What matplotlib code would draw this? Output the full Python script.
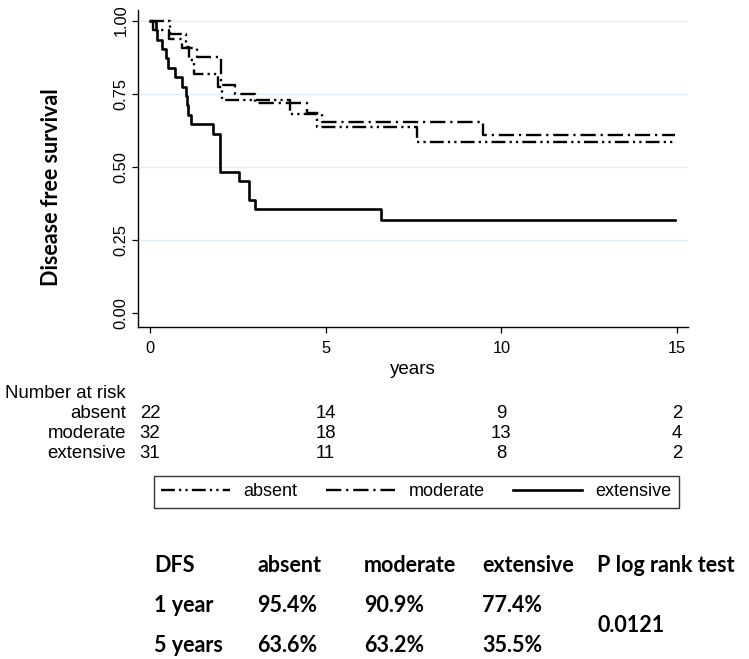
import matplotlib
matplotlib.use("Agg")
import matplotlib.pyplot as plt
import matplotlib.transforms as mtransforms

plt.rcParams['font.family'] = ['Liberation Sans', 'DejaVu Sans']
plt.rcParams['lines.scale_dashes'] = False

# ---------------- data ----------------
groups = ["absent", "moderate", "extensive"]

absent_t = [0, 0.57, 1.02, 1.12, 1.25, 1.95, 2.05, 3.99, 4.75, 7.60, 14.95]
absent_s = [1.0, 0.955, 0.909, 0.864, 0.818, 0.773, 0.727, 0.682, 0.636, 0.585, 0.585]

moderate_t = [0, 0.08, 0.55, 0.90, 1.33, 2.01, 2.42, 2.99, 4.47, 4.89, 9.49, 14.95]
moderate_s = [1.0, 0.969, 0.938, 0.906, 0.875, 0.781, 0.750, 0.719, 0.684, 0.652, 0.608, 0.608]

extensive_t = [0, 0.17, 0.19, 0.33, 0.47, 0.52, 0.71, 0.90, 1.02, 1.05, 1.09, 1.16,
               1.78, 1.99, 2.52, 2.82, 2.99, 6.58, 14.95]
extensive_s = [1.0, 0.968, 0.935, 0.903, 0.871, 0.839, 0.806, 0.774, 0.742, 0.710,
               0.677, 0.645, 0.613, 0.484, 0.452, 0.387, 0.355, 0.320, 0.320]

risk_times = [0, 5, 10, 15]
risk_absent = [22, 14, 9, 2]
risk_moderate = [32, 18, 13, 4]
risk_extensive = [31, 11, 8, 2]

yticks = [0.00, 0.25, 0.50, 0.75, 1.00]
xticks = [0, 5, 10, 15]

table_header = ["DFS", "absent", "moderate", "extensive", "P log rank test"]
table_row1 = ["1 year", "95.4%", "90.9%", "77.4%"]
table_row2 = ["5 years", "63.6%", "63.2%", "35.5%"]
p_value = "0.0121"

# ---------------- figure ----------------
W, H = 749, 659
fig = plt.figure(figsize=(W / 100, H / 100), dpi=100)

def fx(px):
    return px / W

def fy(py):
    return 1 - py / H

ax = fig.add_axes([fx(138), fy(327), fx(688) - fx(138), fy(10) - fy(327)])
ax.set_xlim(-0.34, 15.31)
ax.set_ylim(-0.047, 1.036)

for v in yticks[1:]:
    ax.axhline(v, color='#e4edf3', lw=1.0, zorder=0)

lw = 1.7
ls_absent = (0, (10, 3, 1.6, 3, 1.6, 3))
ls_moderate = (0, (11, 3.5, 1.6, 3.5))

ax.step(absent_t, absent_s, where='post', color='black', lw=lw, linestyle=ls_absent, label=groups[0])
ax.step(moderate_t, moderate_s, where='post', color='black', lw=lw, linestyle=ls_moderate, label=groups[1])
ax.step(extensive_t, extensive_s, where='post', color='black', lw=lw + 0.2, linestyle='-', label=groups[2])

for s in ['top', 'right']:
    ax.spines[s].set_visible(False)
for s in ['left', 'bottom']:
    ax.spines[s].set_linewidth(1.0)

ax.set_yticks(yticks)
ax.set_yticklabels([f"{v:.2f}" for v in yticks], rotation=90, va='center')
ax.set_xticks(xticks)
ax.tick_params(axis='both', direction='out', length=4, width=0.9, labelsize=11.8, pad=3, colors='black')
ax.tick_params(axis='x', pad=6)
ax.set_xlabel("years", fontsize=13.5, labelpad=4)

fig.text(fx(52), fy(187), "Disease free survival", rotation=90, ha='center', va='center',
         fontsize=15.5, fontweight='bold', family=['Lato', 'DejaVu Sans'])

# ---------------- number at risk ----------------
trans = mtransforms.blended_transform_factory(ax.transData, fig.transFigure)
rfs = 13.4
fig.text(fx(5), fy(393), "Number at risk", ha='left', va='center', fontsize=rfs)
rows = [(groups[0], risk_absent, 413), (groups[1], risk_moderate, 433), (groups[2], risk_extensive, 453)]
for name, vals, ypx in rows:
    fig.text(fx(126), fy(ypx), name, ha='right', va='center', fontsize=rfs)
    for t, n in zip(risk_times, vals):
        ax.text(t, fy(ypx), str(n), transform=trans, ha='center', va='center', fontsize=rfs)

# ---------------- legend ----------------
leg = ax.legend(loc='center', bbox_to_anchor=(fx(416.5), fy(492)),
                bbox_transform=fig.transFigure, ncol=3, fontsize=13,
                frameon=True, fancybox=False, edgecolor='black', handlelength=3.8,
                handletextpad=0.75, columnspacing=1.6, borderaxespad=0, borderpad=0.42)
leg.get_frame().set_linewidth(1.0)

# ---------------- DFS table ----------------
col_x = [154, 257, 364, 482, 597]
tfont = dict(fontsize=15.5, fontweight='bold', family=['Lato', 'DejaVu Sans'], va='center', ha='left')
for x, txt in zip(col_x, table_header):
    fig.text(fx(x), fy(566), txt, **tfont)
for x, txt in zip(col_x, table_row1):
    fig.text(fx(x), fy(606), txt, **tfont)
for x, txt in zip(col_x, table_row2):
    fig.text(fx(x), fy(645), txt, **tfont)
fig.text(fx(col_x[4]), fy(626), p_value, **tfont)

fig.savefig("out.png", dpi=100)
